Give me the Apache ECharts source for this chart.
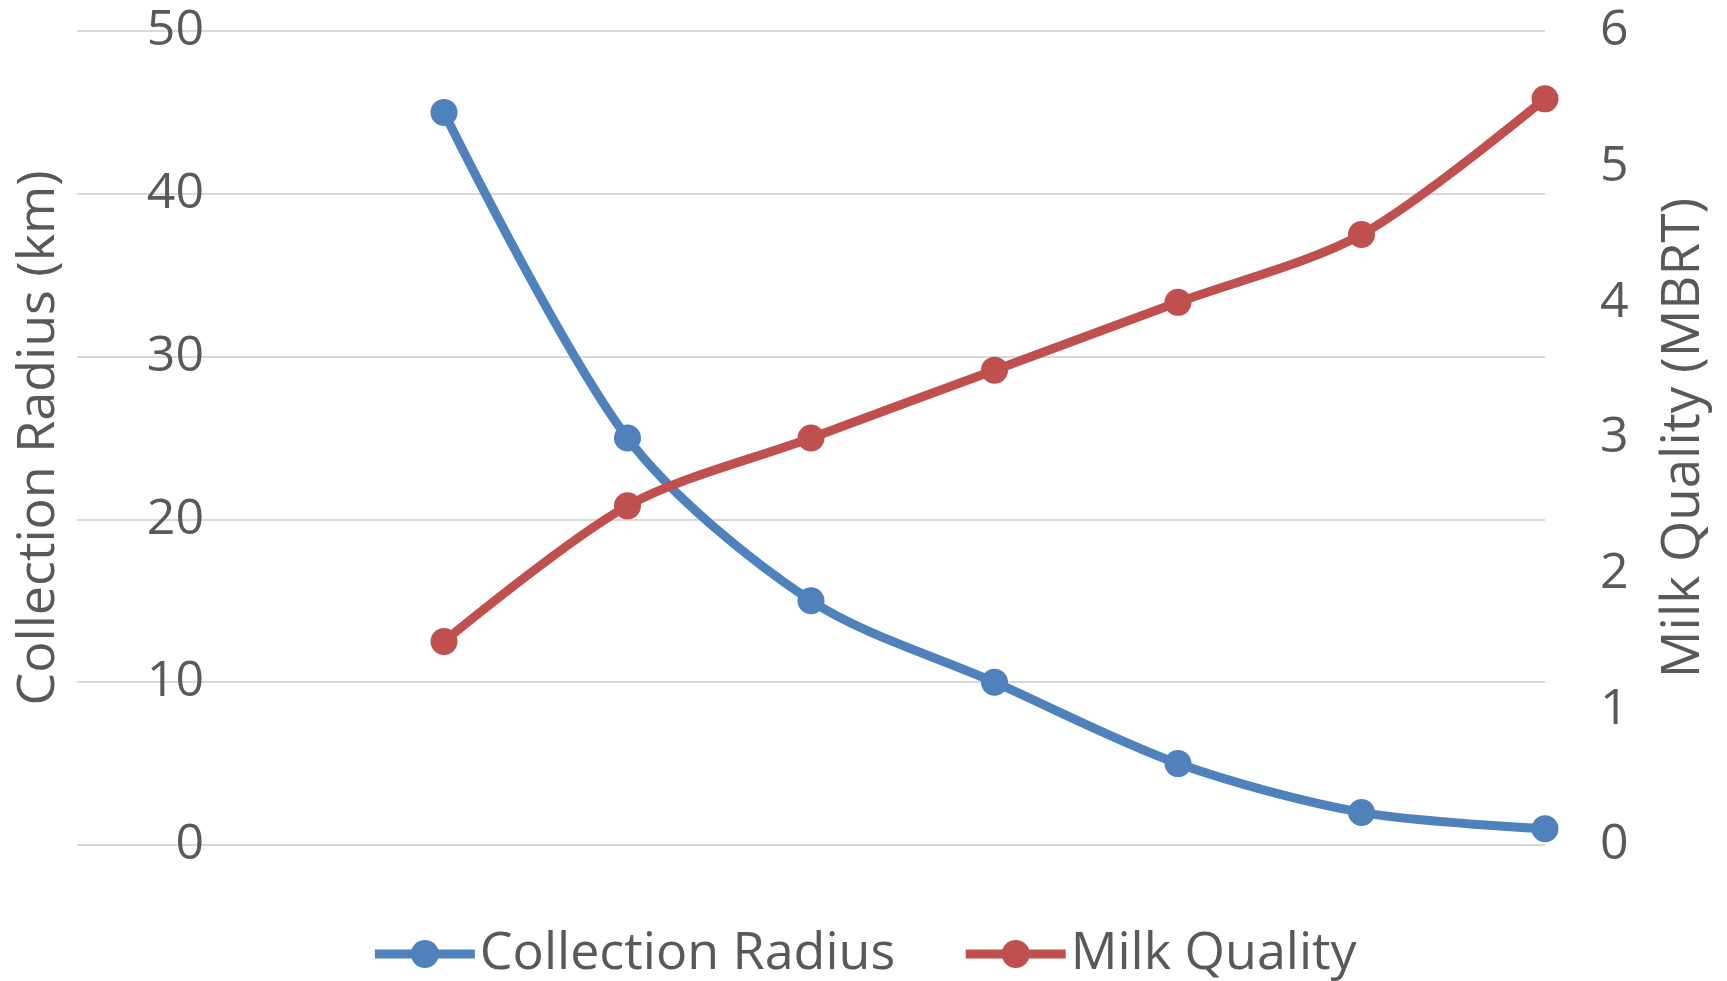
<!DOCTYPE html>
<html>
<head>
<meta charset="utf-8">
<script src="https://cdn.jsdelivr.net/npm/echarts@6/dist/echarts.min.js"></script>
<style>
  html, body { margin: 0; padding: 0; background: #fff; }
  #chart { width: 1727px; height: 981px; }
</style>
</head>
<body>
<div id="chart"></div>
<script>
// categories (first two slots are empty in the original sheet)
const categories = ["", "", "1", "2", "3", "4", "5", "6", "7"]
const radiusValues = [null, null, 45, 25, 15, 10, 5, 2, 1]
const qualityValues = [null, null, 1.5, 2.5, 3, 3.5, 4, 4.5, 5.5]

const textColor = "#595959"
const font = "Open Sans"

const chart = echarts.init(document.getElementById("chart"))
chart.setOption({
  animation: false,
  textStyle: { fontFamily: font },
  grid: { left: 77, right: 182, top: 31, bottom: 136 },
  legend: {
    bottom: -4,
    left: "center",
    itemWidth: 100,
    itemHeight: 35,
    itemGap: 66,
    lineStyle: { width: 9 },
    textStyle: { fontSize: 52, color: textColor, fontFamily: font },
    data: ["Collection Radius", "Milk Quality"]
  },
  xAxis: {
    type: "category",
    data: categories,
    boundaryGap: false,
    axisLine: { show: false },
    axisTick: { show: false },
    axisLabel: { show: false }
  },
  yAxis: [
    {
      type: "value",
      min: 0,
      max: 50,
      interval: 10,
      name: "Collection Radius (km)",
      nameLocation: "middle",
      nameGap: 12,
      nameTextStyle: { fontSize: 52, color: textColor, fontFamily: font },
      axisLine: { show: false },
      axisTick: { show: false },
      axisLabel: { fontSize: 50, color: textColor, margin: -127, fontFamily: font },
      splitLine: { lineStyle: { color: "#d9d9d9", width: 2 } }
    },
    {
      type: "value",
      min: 0,
      max: 6,
      interval: 1,
      name: "Milk Quality (MBRT)",
      nameLocation: "middle",
      nameRotate: 90,
      nameGap: 112,
      nameTextStyle: { fontSize: 53, color: textColor, fontFamily: font },
      axisLine: { show: false },
      axisTick: { show: false },
      axisLabel: { fontSize: 50, color: textColor, margin: 55, fontFamily: font },
      splitLine: { show: false }
    }
  ],
  series: [
    {
      name: "Collection Radius",
      type: "line",
      yAxisIndex: 0,
      data: radiusValues,
      smooth: 0.3,
      symbol: "circle",
      symbolSize: 27,
      lineStyle: { width: 9, color: "#4f81bd" },
      itemStyle: { color: "#4f81bd" }
    },
    {
      name: "Milk Quality",
      type: "line",
      yAxisIndex: 1,
      data: qualityValues,
      smooth: 0.3,
      symbol: "circle",
      symbolSize: 27,
      lineStyle: { width: 9, color: "#c0504d" },
      itemStyle: { color: "#c0504d" }
    }
  ]
})
</script>
</body>
</html>
